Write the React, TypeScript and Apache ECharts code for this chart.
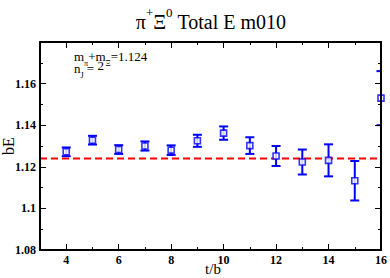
import React, { useEffect, useRef } from "react";
import * as echarts from "echarts";

const tValues = [4, 5, 6, 7, 8, 9, 10, 11, 12, 13, 14, 15, 16];
const bEValues = [1.1272, 1.1328, 1.1283, 1.13, 1.128, 1.1325, 1.1362, 1.1302, 1.1252, 1.1223, 1.1231, 1.1133, 1.153];
const bEErrors = [0.0021, 0.0021, 0.0021, 0.0022, 0.0023, 0.0029, 0.0032, 0.004, 0.0048, 0.006, 0.0077, 0.0095, 0.013];
const refLevel = 1.124;
const xMajorTicks = [4, 6, 8, 10, 12, 14, 16];
const xMinorTicks = [3, 5, 7, 9, 11, 13, 15];

const BLUE = "#0000ff";
const SERIF = "'Liberation Serif', 'DejaVu Serif', serif";

export default function App() {
  const ref = useRef<HTMLDivElement>(null);
  useEffect(() => {
    if (!ref.current) return;
    const chart = echarts.init(ref.current, undefined, { renderer: "svg" });
    const points = tValues.map((t, i) => [t, bEValues[i]]);
    const bars = tValues.map((t, i) => [t, bEValues[i] - bEErrors[i], bEValues[i] + bEErrors[i]]);

    const xBase = {
      type: "value",
      min: 3,
      max: 16,
      gridIndex: 0,
      z: 5,
      splitLine: { show: false },
    };
    const labelStyle = { fontFamily: SERIF, fontWeight: "bold", fontSize: 12, color: "#000" };

    chart.setOption({
      animation: false,
      backgroundColor: "#fff",
      grid: { left: 40, right: 7, top: 42, bottom: 28 },
      xAxis: [
        {
          ...xBase,
          position: "bottom",
          axisLine: { show: true, onZero: false, lineStyle: { color: "#000", width: 2 } },
          axisTick: { show: true, inside: true, length: 6, customValues: xMajorTicks, lineStyle: { color: "#000", width: 1 } },
          axisLabel: { show: true, customValues: xMajorTicks, margin: 4, ...labelStyle },
        },
        {
          ...xBase,
          position: "bottom",
          axisLine: { show: false },
          axisTick: { show: true, inside: true, length: 3, customValues: xMinorTicks, lineStyle: { color: "#000", width: 1 } },
          axisLabel: { show: false },
        },
        {
          ...xBase,
          position: "top",
          axisLine: { show: true, onZero: false, lineStyle: { color: "#000", width: 2 } },
          axisTick: { show: true, inside: true, length: 6, customValues: xMajorTicks, lineStyle: { color: "#000", width: 1 } },
          axisLabel: { show: false },
        },
        {
          ...xBase,
          position: "top",
          axisLine: { show: false },
          axisTick: { show: true, inside: true, length: 3, customValues: xMinorTicks, lineStyle: { color: "#000", width: 1 } },
          axisLabel: { show: false },
        },
      ],
      yAxis: [
        {
          type: "value",
          min: 1.08,
          max: 1.18,
          interval: 0.02,
          position: "left",
          z: 5,
          splitLine: { show: false },
          axisLine: { show: true, onZero: false, lineStyle: { color: "#000", width: 2 } },
          axisTick: { show: true, inside: true, length: 6, lineStyle: { color: "#000", width: 1 } },
          minorTick: { show: true, splitNumber: 2, length: 3, lineStyle: { color: "#000", width: 1 } },
          axisLabel: {
            show: true,
            margin: 4,
            showMaxLabel: false,
            formatter: (v: number) => (Math.abs(v - 1.18) < 1e-6 ? "" : String(parseFloat(v.toFixed(2)))),
            ...labelStyle,
          },
        },
        {
          type: "value",
          min: 1.08,
          max: 1.18,
          interval: 0.02,
          position: "right",
          z: 5,
          splitLine: { show: false },
          axisLine: { show: true, onZero: false, lineStyle: { color: "#000", width: 2 } },
          axisTick: { show: true, inside: true, length: 6, lineStyle: { color: "#000", width: 1 } },
          minorTick: { show: true, splitNumber: 2, length: 3, lineStyle: { color: "#000", width: 1 } },
          axisLabel: { show: false },
        },
      ],
      series: [
        {
          type: "line",
          data: [[3, refLevel], [16, refLevel]],
          symbol: "none",
          lineStyle: { color: "#ff0000", width: 2, type: [7, 4] },
          z: 1,
        },
        {
          type: "custom",
          clip: true,
          data: bars,
          renderItem: (params: any, api: any) => {
            const x = api.value(0);
            const lo = api.coord([x, api.value(1)]);
            const hi = api.coord([x, api.value(2)]);
            const w = 4.5;
            const style = { stroke: BLUE, lineWidth: 2, fill: "none" };
            return {
              type: "group",
              children: [
                { type: "line", shape: { x1: lo[0], y1: lo[1], x2: hi[0], y2: hi[1] }, style },
                { type: "line", shape: { x1: lo[0] - w, y1: lo[1], x2: lo[0] + w, y2: lo[1] }, style },
                { type: "line", shape: { x1: hi[0] - w, y1: hi[1], x2: hi[0] + w, y2: hi[1] }, style },
              ],
            };
          },
          z: 2,
        },
        {
          type: "scatter",
          data: points,
          symbol: "rect",
          symbolSize: 6,
          itemStyle: { color: "#fff", borderColor: BLUE, borderWidth: 1.6 },
          clip: true,
          z: 3,
        },
      ],
      graphic: [
        {
          type: "text",
          x: 211,
          y: 19,
          style: {
            text: "{n|π}{s|+}{n|Ξ}{s|0}{n| Total E m010}",
            align: "center",
            verticalAlign: "middle",
            fill: "#000",
            rich: {
              n: { fontFamily: SERIF, fontSize: 20, lineHeight: 26, fill: "#000", verticalAlign: "bottom" },
              s: { fontFamily: SERIF, fontSize: 13, lineHeight: 12, fill: "#000", verticalAlign: "top" },
            },
          },
        },
        {
          type: "text",
          x: 74,
          y: 50,
          style: {
            text: "{n|m}{b|π}{n|+m}{b|Ξ}{n|=1.124}",
            fill: "#000",
            rich: {
              n: { fontFamily: SERIF, fontSize: 13, lineHeight: 13, fill: "#000", verticalAlign: "top" },
              b: { fontFamily: SERIF, fontSize: 8, lineHeight: 8, fill: "#000", padding: [9, 0, 0, 0], verticalAlign: "top" },
            },
          },
        },
        {
          type: "text",
          x: 74,
          y: 59,
          style: {
            text: "{n|n}{b|J}{n| = }{u|2}",
            fill: "#000",
            rich: {
              n: { fontFamily: SERIF, fontSize: 13, lineHeight: 13, fill: "#000", padding: [3, 0, 0, 0], verticalAlign: "top" },
              b: { fontFamily: SERIF, fontSize: 8, lineHeight: 8, fill: "#000", padding: [12, 0, 0, 0], verticalAlign: "top" },
              u: { fontFamily: SERIF, fontSize: 13, lineHeight: 13, fill: "#000", padding: [0, 0, 0, 0], verticalAlign: "top" },
            },
          },
        },
        {
          type: "text",
          x: 8,
          y: 146,
          rotation: Math.PI / 2,
          style: {
            text: "bE",
            fontFamily: SERIF,
            fontSize: 16,
            fill: "#000",
            align: "center",
            verticalAlign: "middle",
          },
        },
        {
          type: "text",
          x: 213,
          y: 269,
          style: {
            text: "t/b",
            fontFamily: SERIF,
            fontSize: 15,
            fill: "#000",
            align: "center",
            verticalAlign: "middle",
          },
        },
      ],
    });
    return () => chart.dispose();
  }, []);
  return <div ref={ref} style={{ position: "absolute", left: 0, top: 0, width: 390, height: 278 }} />;
}
